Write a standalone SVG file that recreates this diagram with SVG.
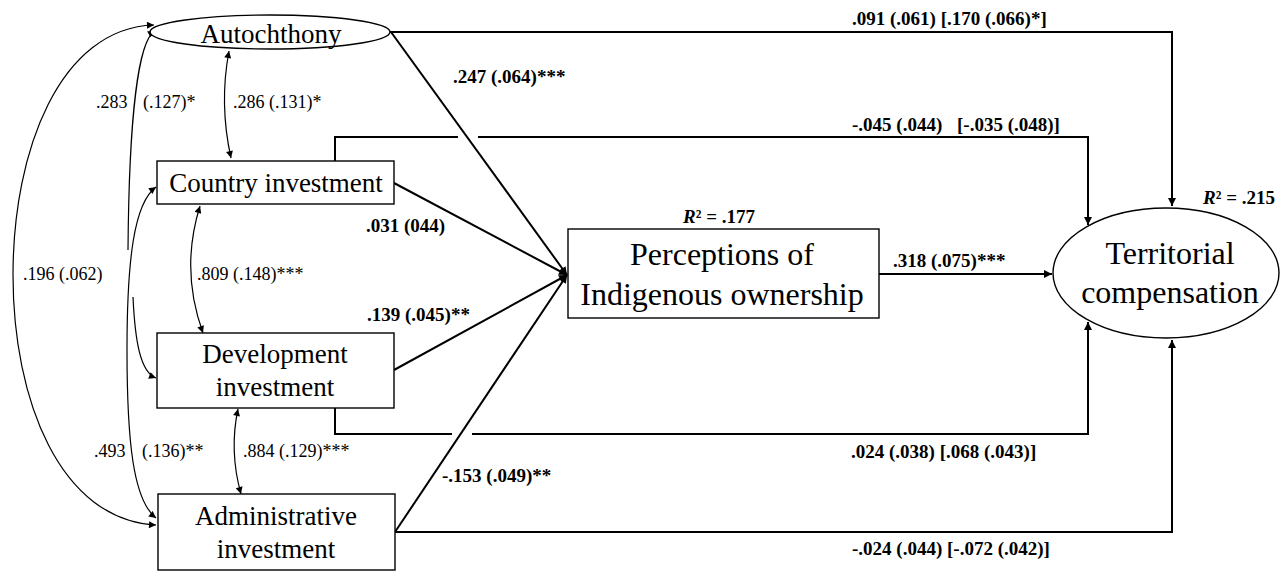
<svg xmlns="http://www.w3.org/2000/svg" width="1282" height="571" viewBox="0 0 1282 571">
<style>
.node{fill:#fff;stroke:#000;stroke-width:1.4}
.nt{font-family:"Liberation Serif","Times New Roman",serif;font-size:27px;fill:#000;text-anchor:middle}
.big{font-size:32px}
.lbl{font-family:"Liberation Serif","Times New Roman",serif;font-size:18px;fill:#000}
.b{font-weight:bold;font-size:19px}
.path{fill:none;stroke:#000;stroke-width:2}
.cov{fill:none;stroke:#000;stroke-width:1.2}
</style>
<defs>
<marker id="ah" viewBox="0 0 10 10" refX="10" refY="5" markerWidth="10" markerHeight="8" markerUnits="userSpaceOnUse" orient="auto-start-reverse"><path d="M0,0 L10,5 L0,10 z" fill="#000"/></marker>
<marker id="ahs" viewBox="0 0 10 10" refX="10" refY="5" markerWidth="9" markerHeight="7" markerUnits="userSpaceOnUse" orient="auto-start-reverse"><path d="M0,0 L10,5 L0,10 z" fill="#000"/></marker>
</defs>
<rect width="1282" height="571" fill="#fff"/>
<g id="connectors">
<path class="path" d="M390,32 H1172 V206" marker-end="url(#ah)"/>
<path class="path" d="M335,161 V137 H458 M478,137 H1088 V225" marker-end="url(#ah)"/>
<path class="path" d="M335,408 V434 H452 M472,434 H1088 V322" marker-end="url(#ah)"/>
<path class="path" d="M395,532 H1172 V340" marker-end="url(#ah)"/>
<path class="path" d="M879,274 H1052" marker-end="url(#ah)"/>
<path class="path" d="M391,32 L567,275" marker-end="url(#ah)"/>
<path class="path" d="M394,183 L567,275" marker-end="url(#ah)"/>
<path class="path" d="M394,370 L567,275" marker-end="url(#ah)"/>
<path class="path" d="M395,532 L567,275" marker-end="url(#ah)"/>
<path class="cov" d="M229,51 Q219,104 231,158" marker-start="url(#ahs)" marker-end="url(#ahs)"/>
<path class="cov" d="M200,206 Q180,270 203,333" marker-start="url(#ahs)" marker-end="url(#ahs)"/>
<path class="cov" d="M238,409 Q229,451 241,494" marker-start="url(#ahs)" marker-end="url(#ahs)"/>
<path class="cov" d="M155,31 C138,40 129,120 128,250" marker-start="url(#ahs)"/>
<path class="cov" d="M133,297 C135,340 140,372 156,378" marker-end="url(#ahs)"/>
<path class="cov" d="M156,187 C134,203 127,260 127,350 C127,440 133,500 156,518" marker-start="url(#ahs)" marker-end="url(#ahs)"/>
<path class="cov" d="M154,25 C60,28 13,150 13,275 C13,400 60,520 156,525" marker-start="url(#ahs)" marker-end="url(#ahs)"/>
</g>
<g id="autochthony"><ellipse class="node" cx="270" cy="32" rx="120" ry="17"/><text class="nt" x="271" y="43">Autochthony</text></g>
<g id="country"><rect class="node" x="157" y="161" width="237" height="43"/><text class="nt" x="276" y="192">Country investment</text></g>
<g id="development"><rect class="node" x="157" y="333" width="237" height="75"/><text class="nt" x="275" y="363">Development</text><text class="nt" x="275" y="396">investment</text></g>
<g id="administrative"><rect class="node" x="158" y="494" width="237" height="76"/><text class="nt" x="276" y="525">Administrative</text><text class="nt" x="276" y="558">investment</text></g>
<g id="perceptions"><rect class="node" x="568" y="229" width="311" height="89"/><text class="nt big" x="722" y="265">Perceptions of</text><text class="nt big" x="722" y="305">Indigenous ownership</text></g>
<g id="territorial"><ellipse class="node" cx="1166" cy="273" rx="113" ry="65"/><text class="nt big" x="1170" y="264">Territorial</text><text class="nt big" x="1170" y="303">compensation</text></g>
<g id="labels">
<text class="lbl b" x="453" y="83">.247 (.064)***</text>
<text class="lbl b" x="852" y="25">.091 (.061) [.170 (.066)*]</text>
<text class="lbl b" y="131"><tspan x="852">-.045 (.044)</tspan><tspan x="957">[-.035 (.048)]</tspan></text>
<text class="lbl b" x="366" y="232">.031 (044)</text>
<text class="lbl b" x="367" y="321">.139 (.045)**</text>
<text class="lbl b" x="442" y="482">-.153 (.049)**</text>
<text class="lbl b" x="893" y="267">.318 (.075)***</text>
<text class="lbl b" x="851" y="458">.024 (.038) [.068 (.043)]</text>
<text class="lbl b" x="852" y="555">-.024 (.044) [-.072 (.042)]</text>
<text class="lbl b" x="683" y="223"><tspan font-style="italic">R</tspan>² = .177</text>
<text class="lbl b" x="1203" y="204"><tspan font-style="italic">R</tspan>² = .215</text>
<text class="lbl" y="108"><tspan x="96">.283</tspan><tspan x="143">(.127)*</tspan></text>
<text class="lbl" x="233" y="108">.286 (.131)*</text>
<text class="lbl" x="23" y="280">.196 (.062)</text>
<text class="lbl" x="197" y="280">.809 (.148)***</text>
<text class="lbl" y="457"><tspan x="94">.493</tspan><tspan x="142">(.136)**</tspan></text>
<text class="lbl" x="243" y="457">.884 (.129)***</text>
</g>
</svg>
